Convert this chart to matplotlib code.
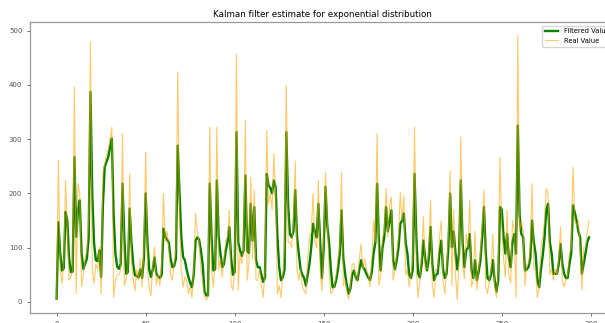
import numpy as np
import matplotlib.pyplot as plt

real_value = [
    5, 261, 60, 34, 70, 224, 130, 40, 46, 60,
    396, 15, 218, 200, 28, 50, 80, 95, 150, 479,
    60, 34, 70, 60, 101, 15, 240, 255, 270, 282,
    300, 322, 8, 40, 50, 50, 60, 310, 30, 43,
    60, 236, 80, 40, 20, 60, 40, 80, 28, 100,
    276, 60, 25, 12, 70, 101, 32, 50, 30, 70,
    200, 110, 130, 100, 50, 40, 70, 100, 424, 160,
    60, 27, 46, 40, 15, 30, 8, 60, 163, 130,
    110, 60, 40, 10, 4, 10, 322, 60, 27, 70,
    322, 60, 80, 46, 80, 113, 120, 169, 30, 22,
    60, 457, 22, 90, 70, 100, 335, 40, 70, 230,
    80, 206, 40, 40, 60, 30, 8, 60, 316, 180,
    200, 170, 273, 200, 15, 30, 8, 50, 100, 399,
    110, 110, 100, 150, 260, 60, 40, 60, 30, 20,
    15, 80, 120, 130, 200, 110, 100, 224, 60, 20,
    120, 239, 150, 60, 15, 20, 30, 50, 80, 101,
    239, 30, 40, 20, 5, 30, 70, 70, 40, 40,
    80, 107, 60, 80, 60, 50, 28, 80, 150, 110,
    310, 30, 50, 120, 130, 209, 120, 180, 193, 40,
    60, 90, 120, 202, 150, 196, 50, 60, 28, 50,
    80, 322, 60, 8, 40, 90, 157, 60, 60, 100,
    187, 30, 8, 60, 60, 120, 150, 40, 15, 60,
    120, 242, 30, 169, 50, 4, 80, 304, 70, 43,
    125, 100, 187, 28, 40, 130, 22, 60, 90, 140,
    206, 30, 15, 40, 60, 125, 30, 8, 60, 267,
    140, 80, 46, 169, 50, 35, 150, 130, 8, 491,
    130, 150, 130, 30, 70, 70, 100, 218, 60, 60,
    8, 30, 100, 120, 150, 209, 200, 50, 60, 40,
    60, 50, 80, 138, 40, 28, 40, 50, 90, 100,
    248, 150, 140, 150, 100, 22, 100, 100, 130, 150,
]

filtered_value = [
    6, 147, 90, 58, 62, 166, 150, 80, 55, 56,
    267, 120, 170, 187, 90, 61, 70, 80, 120, 387,
    200, 110, 77, 75, 95, 46, 180, 249, 258, 267,
    285, 301, 160, 90, 65, 61, 70, 218, 120, 52,
    55, 172, 110, 70, 49, 48, 45, 60, 44, 80,
    200, 110, 60, 46, 60, 82, 52, 47, 44, 50,
    135, 120, 115, 110, 80, 64, 66, 80, 288, 206,
    120, 83, 77, 60, 46, 35, 27, 50, 113, 119,
    115, 95, 70, 20, 12, 12, 218, 120, 58, 60,
    224, 120, 89, 64, 70, 95, 110, 138, 80, 50,
    55, 313, 110, 95, 85, 95, 233, 95, 90, 181,
    113, 175, 77, 64, 64, 50, 37, 45, 236, 215,
    210, 200, 224, 212, 120, 64, 40, 45, 60, 313,
    180, 125, 119, 130, 206, 120, 89, 60, 50, 44,
    30, 50, 70, 101, 144, 130, 119, 181, 110, 44,
    100, 212, 140, 110, 60, 27, 28, 40, 60, 89,
    169, 80, 52, 30, 15, 25, 50, 58, 45, 40,
    60, 77, 64, 60, 52, 45, 40, 55, 89, 110,
    218, 110, 58, 100, 119, 175, 130, 150, 169, 77,
    60, 77, 100, 144, 150, 163, 110, 89, 50, 44,
    60, 236, 120, 52, 45, 70, 113, 80, 58, 80,
    138, 70, 40, 50, 52, 90, 113, 60, 44, 52,
    100, 200, 101, 130, 90, 60, 90, 224, 110, 64,
    95, 100, 125, 60, 44, 77, 40, 55, 77, 120,
    175, 90, 44, 40, 50, 77, 40, 19, 40, 175,
    170, 120, 89, 125, 80, 64, 110, 125, 89, 325,
    160, 125, 120, 58, 60, 64, 80, 150, 110, 89,
    40, 27, 60, 85, 119, 170, 181, 110, 89, 52,
    52, 52, 70, 107, 70, 52, 44, 44, 70, 90,
    178, 165, 150, 130, 119, 52, 70, 89, 110, 119,
]

steps = np.arange(len(real_value))

fig = plt.figure(figsize=(6.05, 3.23), dpi=100)
ax = fig.add_axes([0.0496, 0.031, 0.968, 0.9])

ax.plot(steps, filtered_value, color='green', linewidth=1.7, label='Filtered Value')
ax.plot(steps, real_value, color='orange', linewidth=0.8, alpha=0.6, label='Real Value')

ax.set_title('Kalman filter estimate for exponential distribution', fontsize=6.3, pad=4)
ax.tick_params(labelsize=5, length=2.5, width=0.6, pad=3, colors='#555555')
for s in ax.spines.values():
    s.set_color('#999999')
    s.set_linewidth(0.9)

ax.legend(loc='upper right', fontsize=4.9)

fig.savefig('out.png', dpi=100)
